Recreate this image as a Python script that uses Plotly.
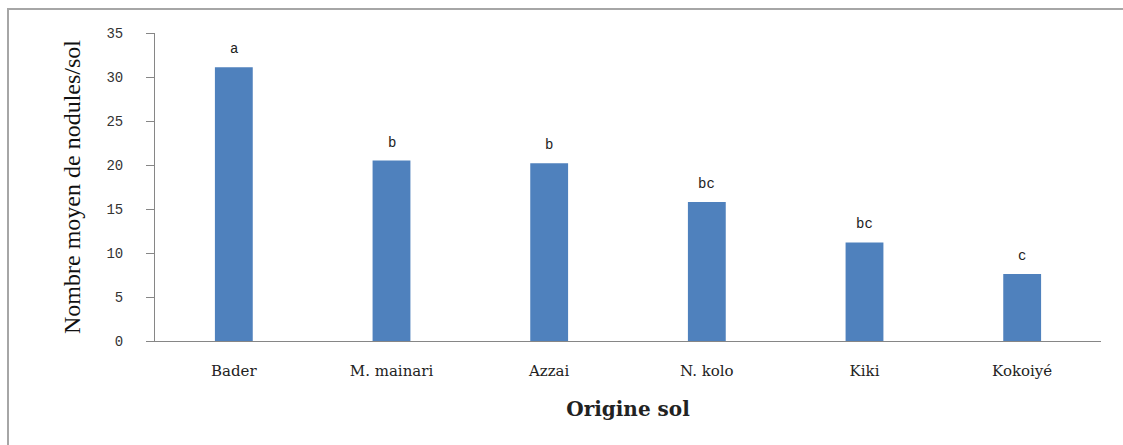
import plotly.graph_objects as go

# Mean nodule counts per soil origin, with significance letters
origines = ["Bader", "M. mainari", "Azzai", "N. kolo", "Kiki", "Kokoiyé"]
nodules = [31.1, 20.5, 20.2, 15.8, 11.2, 7.6]
lettres = ["a", "b", "b", "bc", "bc", "c"]
y_ticks = [0, 5, 10, 15, 20, 25, 30, 35]

fig = go.Figure()
fig.add_trace(go.Bar(
    x=origines,
    y=nodules,
    width=0.24,
    marker=dict(color="#4f81bd", line=dict(width=0)),
    hoverinfo="skip",
))

# Significance letters above each bar
for o, v, l in zip(origines, nodules, lettres):
    fig.add_annotation(
        x=o, y=v, text=l, showarrow=False, yshift=18,
        font=dict(family="Liberation Mono", size=14, color="#222"),
    )

# Outer chart frame (cropped on the right and bottom)
W, H = 1123, 445
ml, mr, mt, mb = 155, 22, 33, 104
pw, ph = W - ml - mr, H - mt - mb
fig.add_shape(
    type="rect", xref="paper", yref="paper",
    x0=(8 - ml) / pw, x1=(W + 200 - ml) / pw,
    y0=(H - mb - (H + 200)) / ph, y1=(H - mb - 9) / ph,
    line=dict(color="#a6a6a6", width=2), fillcolor="rgba(0,0,0,0)",
    layer="below",
)

fig.update_layout(
    width=W, height=H,
    margin=dict(l=ml, r=mr, t=mt, b=mb),
    paper_bgcolor="white", plot_bgcolor="white",
    showlegend=False,
    xaxis=dict(
        showline=True, linecolor="#868686", linewidth=1,
        ticks="", showgrid=False,
        ticklabelstandoff=16,
        tickfont=dict(family="DejaVu Serif", size=15, color="#222"),
        title=dict(text="<b>Origine sol</b>",
                   font=dict(family="DejaVu Serif", size=20, color="#222"),
                   standoff=22),
    ),
    yaxis=dict(
        range=[0, 35], tickvals=y_ticks,
        showline=True, linecolor="#868686", linewidth=1,
        ticks="outside", ticklen=8, tickcolor="#868686",
        ticklabelstandoff=20,
        showgrid=False, zeroline=False,
        tickfont=dict(family="Liberation Mono", size=14, color="#333"),
        title=dict(text="Nombre moyen de nodules/sol",
                   font=dict(family="Liberation Serif", size=24, color="#111"),
                   standoff=18),
    ),
    font=dict(family="Liberation Serif"),
)

fig.write_html("out.html")
